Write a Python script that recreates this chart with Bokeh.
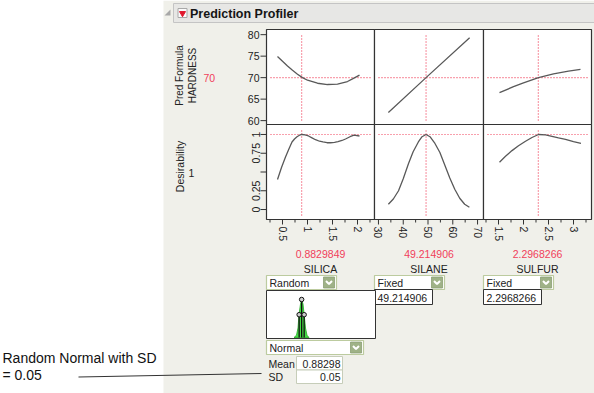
import math
from bokeh.plotting import figure
from bokeh.models import Range1d
from bokeh.embed import file_html
from bokeh.resources import INLINE
from bokeh.core.properties import value

# ---------------- data ----------------
factor_names = ["SILICA", "SILANE", "SULFUR"]
factor_current = [0.8829849, 49.214906, 2.2968266]
factor_current_text = ["0.8829849", "49.214906", "2.2968266"]
factor_lo = [0.18, 28.4, 1.2]
factor_hi = [2.34, 72.4, 3.36]
x_major_ticks = [[0.5, 1, 1.5, 2], [30, 40, 50, 60, 70], [1.5, 2, 2.5, 3]]
x_major_labels = [["0.5", "1", "1.5", "2"], ["30", "40", "50", "60", "70"], ["1.5", "2", "2.5", "3"]]
x_minor_ticks = [[0.25, 0.75, 1.25, 1.75, 2.25], [35, 45, 55, 65], [1.25, 1.75, 2.25, 2.75, 3.25]]
factor_modes = ["Random", "Fixed", "Fixed"]

hard_lo, hard_hi = 59.1, 81.2
hard_ticks = [60, 65, 70, 75, 80]
hard_labels = ["60", "65", "70", "75", "80"]
hard_current = 70
hard_current_text = "70"
des_lo, des_hi = -0.133, 1.133
des_ticks = [0, 0.25, 0.5, 0.75, 1]
des_labels = ["0", "0.25", "", "0.75", "1"]
des_current = 1
des_current_text = "1"

silica_x = [0.4, 0.5, 0.6, 0.7, 0.8, 0.9, 1.0, 1.2, 1.4, 1.6, 1.8, 1.9, 2.04]
silica_hardness = [74.9, 73.8, 72.7, 71.7, 70.8, 70.0, 69.4, 68.7, 68.4, 68.5, 69.1, 69.7, 70.6]
silane_x = [34, 49.2, 66.8]
silane_hardness = [61.9, 70.0, 79.3]
sulfur_x = [1.52, 1.8, 2.0, 2.3, 2.6, 2.9, 3.14]
sulfur_hardness = [66.5, 67.9, 68.8, 70.0, 70.9, 71.5, 71.9]

silica_dx = [0.4, 0.48, 0.56, 0.63, 0.69, 0.74, 0.79, 0.84, 0.89, 0.95, 1.02, 1.09, 1.16, 1.24, 1.31, 1.39, 1.46, 1.54, 1.61, 1.69, 1.76, 1.85, 1.93, 2.04]
silica_des = [0.40, 0.56, 0.70, 0.81, 0.90, 0.94, 0.97, 0.99, 1.00, 0.995, 0.98, 0.955, 0.93, 0.91, 0.90, 0.89, 0.89, 0.895, 0.905, 0.92, 0.94, 0.97, 0.99, 0.98]
silane_dx = [34, 36, 38.1, 40, 42.1, 44, 46.1, 47.6, 49.2, 50.8, 52.8, 54.8, 56.8, 58.8, 60.8, 62.8, 64.8, 66.7]
silane_des = [0.07, 0.14, 0.25, 0.41, 0.61, 0.77, 0.90, 0.97, 1.00, 0.97, 0.88, 0.76, 0.59, 0.42, 0.27, 0.15, 0.07, 0.03]
sulfur_dx = [1.52, 1.64, 1.77, 1.9, 2.04, 2.17, 2.3, 2.44, 2.57, 2.7, 2.84, 3.0, 3.15]
sulfur_des = [0.63, 0.71, 0.785, 0.85, 0.91, 0.96, 1.0, 0.995, 0.975, 0.955, 0.935, 0.905, 0.88]

hardness_x = [silica_x, silane_x, sulfur_x]
hardness_y = [silica_hardness, silane_hardness, sulfur_hardness]
des_x = [silica_dx, silane_dx, sulfur_dx]
des_y = [silica_des, silane_des, sulfur_des]

# random-normal distribution of SILICA
dist_mean = 0.88298
dist_mean_text = "0.88298"
dist_sd = 0.05
dist_sd_text = "0.05"
dist_x = [0.73, 0.78, 0.81, 0.83, 0.86, 0.883, 0.91, 0.933, 0.96, 0.99, 1.03]
dist_h = [0.0, 0.06, 0.25, 0.6, 0.88, 1.0, 0.88, 0.6, 0.25, 0.06, 0.0]
handle_x = [dist_mean - dist_sd, dist_mean, dist_mean + dist_sd]
handle_h = [0.6, 1.0, 0.6]

title = "Prediction Profiler"
row_titles = [["Pred Formula", "HARDNESS"], ["Desirability"]]
note_lines = ["Random Normal with SD", "= 0.05"]

# ---------------- layout / style ----------------
W, H = 594, 393
RED = "#f0405a"
BG = "#f0f0ea"
INK = "#222222"
CURVE = "#595959"
FONT = value("Liberation Sans")
PX_L = [266, 374, 483]
PX_R = [374, 483, 591]
ROW_T = [29, 124]
ROW_B = [124, 219]

p = figure(width=W, height=H, x_range=Range1d(0, W), y_range=Range1d(H, 0),
           output_backend="svg", toolbar_location=None, min_border=0,
           x_axis_location=None, y_axis_location=None,
           background_fill_color="white", border_fill_color="white", outline_line_color=None)
p.grid.visible = False


def txt(x, y, s, size="10px", color=INK, align="left", baseline="middle", angle=0.0, bold=False):
    p.text(x=[x], y=[y], text=[s], text_font=FONT, text_font_size=size, text_color=color,
           text_align=align, text_baseline=baseline, angle=angle,
           text_font_style="bold" if bold else "normal")


def dropdown(x0, x1, y0, y1, label):
    p.quad(left=[x0], right=[x1], top=[y0], bottom=[y1], fill_color="white",
           line_color="#bccb9f", line_width=1.2)
    p.quad(left=[x1 - 13], right=[x1 - 2], top=[y0 + 1.5], bottom=[y1 - 1.5],
           fill_color="#9fb287", line_color="#8c9f74", line_width=0.8)
    cx, cy = x1 - 7.5, (y0 + y1) / 2
    p.line(x=[cx - 3, cx, cx + 3], y=[cy - 1.5, cy + 1.5, cy - 1.5], line_color="white", line_width=2)
    txt(x0 + 3, (y0 + y1) / 2 + 0.5, label, size="10.5px")


def box(x0, x1, y0, y1, label, align="left", line="#333333"):
    p.quad(left=[x0], right=[x1], top=[y0], bottom=[y1], fill_color="white", line_color=line, line_width=1)
    if align == "left":
        txt(x0 + 3, (y0 + y1) / 2 + 0.5, label, size="10.5px")
    else:
        txt(x1 - 2, (y0 + y1) / 2 + 0.5, label, size="10.5px", align="right")


# background of the report
p.quad(left=[163], right=[W], top=[0], bottom=[H], fill_color=BG, line_color=None)

# title bar
p.patch(x=[164, 170, 170], y=[15, 15, 9], fill_color="#a8a8a8", line_color=None)
p.quad(left=[173], right=[W + 2], top=[3], bottom=[22], fill_color="#e7e7e5", line_color="#c4c4c4")
p.quad(left=[177.5], right=[186.5], top=[8], bottom=[17], fill_color="#fbfbfb", line_color="#a8a8a8")
p.scatter(x=[182], y=[12.8], marker="inverted_triangle", size=6, fill_color="#e0182d", line_color="#e0182d")
txt(189.5, 13, title, size="12.5px", bold=True, color="#151515")

# row titles
txt(179, 75, row_titles[0][0], angle=math.pi / 2, align="center")
txt(192, 75, row_titles[0][1], angle=math.pi / 2, align="center")
txt(203, 77, hard_current_text, size="10.5px", color=RED)
txt(179, 166, row_titles[1][0], angle=math.pi / 2, align="center", size="10.5px")
txt(191, 172, des_current_text, size="10.5px", align="center")

# panels
for j in range(2):
    for i in range(3):
        p.quad(left=[PX_L[i]], right=[PX_R[i]], top=[ROW_T[j]], bottom=[ROW_B[j]],
               fill_color="white", line_color="#333333", line_width=1.2)

for j in range(2):
    y0, y1 = (hard_lo, hard_hi) if j == 0 else (des_lo, des_hi)
    ycur = hard_current if j == 0 else des_current
    uy = (y1 - y0) / (ROW_B[j] - ROW_T[j])
    for i in range(3):
        x0, x1 = factor_lo[i], factor_hi[i]
        ux = (x1 - x0) / (PX_R[i] - PX_L[i])
        sub = p.subplot(x_source=Range1d(x0, x1), y_source=Range1d(y0, y1),
                        x_target=Range1d(PX_L[i], PX_R[i]), y_target=Range1d(ROW_B[j], ROW_T[j]))
        cx = factor_current[i]
        sub.segment(x0=[x0 + 4 * ux, cx], y0=[ycur, y0 + 4 * uy], x1=[x1 - 4 * ux, cx], y1=[ycur, y1 - 4 * uy],
                    line_color=RED, line_dash="1 2", line_width=1.2)
        if j == 0:
            sub.line(hardness_x[i], hardness_y[i], line_color=CURVE, line_width=1.3)
        else:
            sub.line(des_x[i], des_y[i], line_color=CURVE, line_width=1.3)
        # left axis
        if i == 0:
            ticks = hard_ticks if j == 0 else des_ticks
            labels = hard_labels if j == 0 else des_labels
            n = len(ticks)
            sub.segment(x0=[x0] * n, y0=ticks, x1=[x0 - 6 * ux] * n, y1=ticks, line_color="#333333", line_width=1)
            if j == 0:
                sub.text(x=[x0] * n, y=ticks, text=labels, text_font=FONT, text_font_size="10.5px",
                         text_color=INK, text_align="right", text_baseline="middle", x_offset=-7)
            else:
                sub.text(x=[x0] * n, y=ticks, text=labels, text_font=FONT, text_font_size="10.5px",
                         text_color=INK, text_align="center", text_baseline="bottom",
                         angle=math.pi / 2, x_offset=-7)
        # bottom axis
        if j == 1:
            mt = x_major_ticks[i]
            nt = x_minor_ticks[i]
            sub.segment(x0=mt, y0=[y0] * len(mt), x1=mt, y1=[y0 - 5 * uy] * len(mt),
                        line_color="#333333", line_width=1)
            sub.segment(x0=nt, y0=[y0] * len(nt), x1=nt, y1=[y0 - 3 * uy] * len(nt),
                        line_color="#333333", line_width=1)
            sub.text(x=mt, y=[y0] * len(mt), text=x_major_labels[i], text_font=FONT, text_font_size="10.5px",
                     text_color=INK, text_align="left", text_baseline="middle",
                     angle=-math.pi / 2, y_offset=7)

# factor values and names
for i in range(3):
    cxp = (PX_L[i] + PX_R[i]) / 2
    txt(cxp, 253.5, factor_current_text[i], size="10.5px", color=RED, align="center")
    txt(cxp, 268.5, factor_names[i], size="10.5px", align="center")
    dropdown(PX_L[i], PX_L[i] + 70, 275, 289, factor_modes[i])

box(PX_L[1], PX_L[1] + 58, 289, 304, factor_current_text[1])
box(PX_L[2], PX_L[2] + 58, 289, 304, factor_current_text[2])

# distribution of the random factor
p.quad(left=[266], right=[375], top=[290], bottom=[338], fill_color="white", line_color="#333333", line_width=1)
dsub = p.subplot(x_source=Range1d(factor_lo[0], factor_hi[0]), y_source=Range1d(0, 1),
                 x_target=Range1d(PX_L[0], PX_R[0]), y_target=Range1d(337, 299))
dsub.patch(dist_x, dist_h, fill_color="#45dd45", line_color="#23a823", line_width=0.8)
dsub.segment(x0=handle_x, y0=[0] * 3, x1=handle_x, y1=handle_h, line_color="#111111", line_width=1.3)
dsub.scatter(x=handle_x, y=handle_h, marker="circle", size=4.5, fill_color="#cccccc", line_color="#111111")

dropdown(266, 363, 340, 354, "Normal")
txt(268, 363, "Mean", size="10.5px")
txt(268, 376.5, "SD", size="10.5px")
box(296, 342, 356, 369.5, dist_mean_text, align="right", line="#c6cdb9")
box(296, 342, 369.5, 383, dist_sd_text, align="right", line="#c6cdb9")

# annotation
txt(2, 357, note_lines[0], size="14px", color="#111111")
txt(2, 374.5, note_lines[1], size="14px", color="#111111")
p.line(x=[78, 261], y=[376.5, 373], line_color="#333333", line_width=1)

open("out.html", "w").write(file_html(p, INLINE))
